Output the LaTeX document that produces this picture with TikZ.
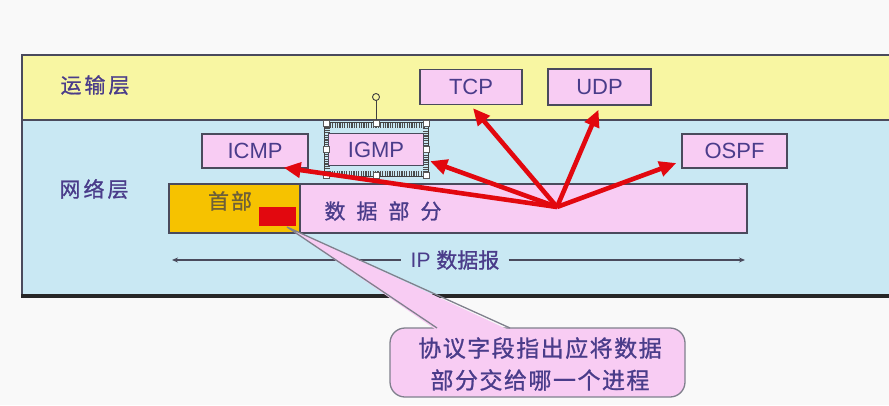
\documentclass[tikz,border=0pt]{standalone}
\usepackage{fontspec}
\setmainfont{Liberation Sans}
\newfontfamily\cjk[FakeBold=1]{Noto Sans CJK SC}
\usetikzlibrary{arrows.meta,calc}
\definecolor{bgc}{HTML}{F9F9F9}
\definecolor{ylw}{HTML}{F8F6A2}
\definecolor{blu}{HTML}{C9E8F3}
\definecolor{pnk}{HTML}{F8CCF3}
\definecolor{org}{HTML}{F6C200}
\definecolor{redc}{HTML}{E2080F}
\definecolor{txt}{HTML}{4A3C8A}
\definecolor{brd}{HTML}{4A4A5C}
\definecolor{hdt}{HTML}{6E6038}
\tikzset{
  proto/.style={draw=brd, line width=1.3pt, fill=pnk, text=txt, inner sep=0pt,
    font=\fontsize{22}{24}\selectfont},
  layerlbl/.style={text=txt, font=\cjk\fontsize{21}{24}\selectfont, inner sep=0pt},
  handle/.style={draw=gray!70!black, fill=white, line width=0.7pt, minimum size=6pt, inner sep=0pt},
  redarr/.style={draw=redc, line width=4.6pt, -{Triangle[length=17pt,width=15pt]}},
  dimarr/.style={draw=brd, line width=1.3pt},
}
\begin{document}
\begin{tikzpicture}[x=1pt,y=-1pt]
\useasboundingbox[fill=bgc] (0,0) rectangle (889,405);
% layers
\fill[ylw] (22,55) rectangle (895,120);
\fill[blu] (22,120) rectangle (895,296);
\draw[brd, line width=1.8pt] (895,55) -- (22,55) -- (22,296);
\draw[brd, line width=1.8pt] (22,120) -- (895,120);
\draw[black!85, line width=3.8pt] (21,296) -- (895,296);
\node[layerlbl] (trans) at (95,85) {运\hspace{3pt}输\hspace{3pt}层};
\node[layerlbl] (net) at (94,189) {网\hspace{3pt}络\hspace{3pt}层};
% transport protocols
\node[proto, minimum width=102pt, minimum height=35pt] (tcp) at (471,87) {TCP};
\node[proto, minimum width=103pt, minimum height=36pt] (udp) at (599.5,87) {UDP};
% selection frame around IGMP
\draw[gray!60!black, line width=5pt, dash pattern=on 1.2pt off 1.2pt] (327,125) rectangle (425,173);
\draw[gray!50!black, line width=0.6pt] (324,122) rectangle (428,176);
\coordinate (rot) at (376,97);
\draw[gray!50!black, line width=0.9pt] (376,123) -- (376,100);
\node[draw=gray!50!black, fill=ylw, circle, line width=0.9pt, minimum size=7pt, inner sep=0pt] (rotc) at (rot) {};
% network protocols
\node[proto, minimum width=106pt, minimum height=34pt] (icmp) at (255,151) {ICMP};
\node[proto, minimum width=95pt, minimum height=32pt] (igmp) at (376,149.5) {IGMP};
\node[proto, minimum width=105pt, minimum height=34pt] (ospf) at (734.5,151) {OSPF};
\foreach \n/\p in {h1/{(326,123)}, h2/{(376,123)}, h3/{(426,123)}, h4/{(326,149)}, h5/{(426,149)}, h6/{(326,175)}, h7/{(376,175)}, h8/{(426,175)}}
  \node[handle] (\n) at \p {};
% datagram
\node[draw=brd, line width=1.3pt, fill=org, minimum width=131pt, minimum height=49pt, inner sep=0pt] (hdr) at (234.5,208.5) {};
\node[draw=brd, line width=1.3pt, fill=pnk, minimum width=447pt, minimum height=49pt, inner sep=0pt] (data) at (523.5,208.5) {};
\node[text=hdt, font=\cjk\fontsize{21}{24}\selectfont, inner sep=0pt] (hdrtxt) at (230,201) {首\hspace{2pt}部};
\node[text=txt, font=\cjk\fontsize{21}{24}\selectfont, inner sep=0pt] (datatxt) at (383,211) {数\hspace{11pt}据\hspace{11pt}部\hspace{11pt}分};
\node[fill=redc, minimum width=37pt, minimum height=19pt, inner sep=0pt] (proto) at (277.5,216.5) {};
% IP datagram span
\node[text=txt, font=\fontsize{21}{24}\selectfont, inner sep=9pt] (ip) at (455,260) {IP {\cjk 数据报}};
\coordinate (ipl) at (172,260);
\coordinate (ipr) at (745,260);
\draw[dimarr, {Stealth[length=6pt,width=5pt]}-] (ipl) -- (ip.west);
\draw[dimarr, -{Stealth[length=6pt,width=5pt]}] (ip.east) -- (ipr);
% red arrows
\coordinate (hub) at (557,207);
\draw[redarr] (hub) -- ([xshift=2pt,yshift=-3pt]tcp.south);
\draw[redarr] (hub) -- ([xshift=-1pt,yshift=-4pt]udp.south);
\draw[redarr] (hub) -- ([xshift=-5pt,yshift=-12pt]ospf.west);
\draw[redarr] (hub) -- ([xshift=6pt,yshift=5pt]igmp.south east);
\draw[redarr] (hub) -- ([xshift=-25pt,yshift=1pt]icmp.south east);
% callout
\node[draw=brd!70, line width=1.3pt, fill=pnk, rounded corners=15pt, minimum width=295pt, minimum height=69pt, inner sep=0pt] (callout) at (537.5,362.5) {};
\coordinate (apex) at (287,227);
\coordinate (pl) at (437,328);
\coordinate (pr) at (510,328);
\fill[pnk] (apex) -- ($(pl)+(0,2.5)$) -- ($(pr)+(0,2.5)$) -- cycle;
\draw[brd!70, line width=1.3pt] (pl) -- (apex) -- (pr);
\node[text=txt, font=\cjk\fontsize{23}{32}\selectfont, align=center, inner sep=0pt] (ctxt) at (540,364)
  {协\hspace{1.5pt}议\hspace{1.5pt}字\hspace{1.5pt}段\hspace{1.5pt}指\hspace{1.5pt}出\hspace{1.5pt}应\hspace{1.5pt}将\hspace{1.5pt}数\hspace{1.5pt}据\\
   部\hspace{1.5pt}分\hspace{1.5pt}交\hspace{1.5pt}给\hspace{1.5pt}哪\hspace{1.5pt}一\hspace{1.5pt}个\hspace{1.5pt}进\hspace{1.5pt}程};
\end{tikzpicture}
\end{document}
